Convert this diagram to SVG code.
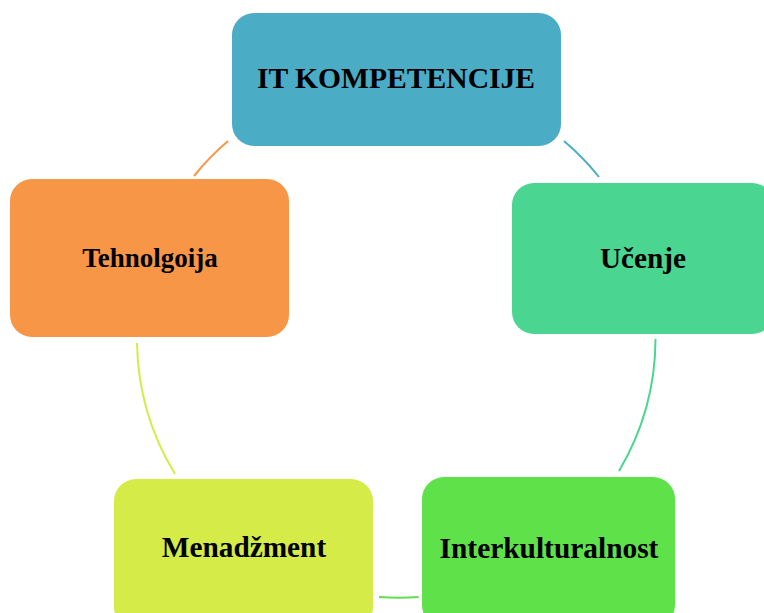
<svg xmlns="http://www.w3.org/2000/svg" width="764" height="613" viewBox="0 0 764 613">
<style>
.lbl{font-family:"Liberation Serif","Times New Roman",serif;font-weight:bold;fill:#000;text-anchor:middle}
.c{fill:none;stroke-width:2}
</style>
<rect width="764" height="613" fill="#fff"/>
<g id="connectors">
<path class="c" stroke="#4BACC6" d="M564,141 A260,260 0 0 1 599,177"/>
<path class="c" stroke="#4AD691" d="M655.5,339 A260,260 0 0 1 619,471"/>
<path class="c" stroke="#5FE149" d="M418.5,597 A260,260 0 0 1 379,597"/>
<path class="c" stroke="#D4EB48" d="M175,474 A260,260 0 0 1 137,343"/>
<path class="c" stroke="#F79646" d="M194,176 A260,260 0 0 1 228,141"/>
</g>
<g id="n-it">
<rect x="232" y="13" width="329" height="133" rx="22" fill="#4BACC6"/>
<text class="lbl" x="396" y="88" font-size="29.6">IT KOMPETENCIJE</text>
</g>
<g id="n-ucenje">
<rect x="512" y="183" width="262" height="151" rx="22" fill="#4AD691"/>
<text class="lbl" x="643" y="268" font-size="29.3">Učenje</text>
</g>
<g id="n-inter">
<rect x="422" y="477" width="253" height="150" rx="22" fill="#5FE149"/>
<text class="lbl" x="549" y="558" font-size="29.4">Interkulturalnost</text>
</g>
<g id="n-menad">
<rect x="114" y="479" width="259" height="150" rx="22" fill="#D4EB48"/>
<text class="lbl" x="244" y="557" font-size="29.3">Menadžment</text>
</g>
<g id="n-tehno">
<rect x="10" y="179" width="279" height="158" rx="22" fill="#F79646"/>
<text class="lbl" x="150" y="267" font-size="27">Tehnolgoija</text>
</g>
</svg>
